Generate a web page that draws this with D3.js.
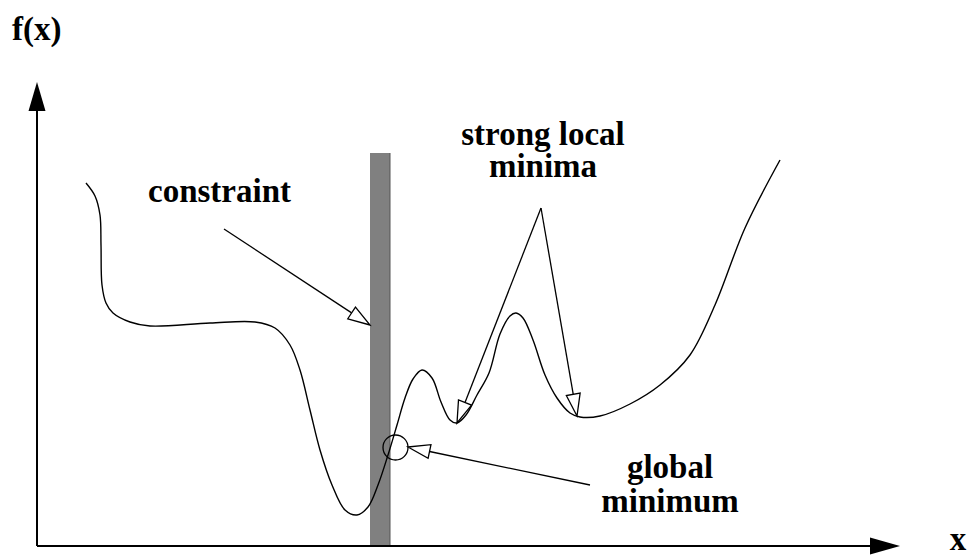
<!DOCTYPE html>
<html><head><meta charset="utf-8">
<script src="https://cdn.jsdelivr.net/npm/d3@7"></script>
<style>
html,body{margin:0;padding:0;background:#fff;}
svg text{font-family:"Liberation Serif","Times New Roman",serif;font-weight:bold;fill:#000;}
</style></head>
<body>
<svg id="c" width="969" height="558"></svg>
<script>
// Curve f(x): x and y in diagram units (origin at axes crossing)
const curveX = [49,58,63,64,65,69,76,93,113,173,218,238,253,263,273,283,295,308,320,331,341,351,360,368,376,385,395,404,413,420,429,440,452,463,473,479,486,496,508,520,533,543,563,593,623,653,678,708,743];
const curveY = [363,350,331,301,261,243,233,224,220,223,224,218,201,176,136,96,61,36,31,39,61,91,121,148,167,176,168,144,126,123,131,151,173,212,230,233,228,206,171,148,133,129,130,142,161,191,241,318,386];

// Constraint position (x range) and height
const constraintX = [333, 353];
const constraintTop = 393;

// Global minimum marker
const globalMin = {x: 358.5, y: 98.5, r: 12.5};

// Annotation arrows: [fromX, fromY, toX, toY]
const arrowFromX = [187, 504, 504, 553];
const arrowFromY = [317, 338, 338, 61];
const arrowToX   = [333, 420, 540, 371];
const arrowToY   = [221, 123, 130, 99];

// Labels
const labelText = ["f(x)", "x", "constraint", "strong local", "minima", "global", "minimum"];
const labelX = [-25, 921, 111, 506, 506, 633, 633];
const labelY = [506, -4, 344, 401, 369, 68, 34];
const labelAnchor = ["start","middle","start","middle","middle","middle","middle"];

const svg = d3.select("#c");
const xS = d3.scaleLinear().domain([0, 863]).range([37, 900]);
const yS = d3.scaleLinear().domain([0, 464]).range([546, 82]);

// constraint bar
svg.append("rect")
  .attr("x", xS(constraintX[0])).attr("y", yS(constraintTop))
  .attr("width", xS(constraintX[1]) - xS(constraintX[0]))
  .attr("height", yS(0) - yS(constraintTop) + 1)
  .attr("fill", "#808080");
svg.append("line")
  .attr("x1", xS(constraintX[1])).attr("x2", xS(constraintX[1]))
  .attr("y1", yS(constraintTop)).attr("y2", yS(0))
  .attr("stroke", "#555").attr("stroke-width", 1);

// axes
const axisG = svg.append("g");
axisG.append("line").attr("x1", xS(0)).attr("y1", yS(0)).attr("x2", xS(0)).attr("y2", yS(436))
  .attr("stroke", "#000").attr("stroke-width", 2);
axisG.append("line").attr("x1", xS(0)).attr("y1", yS(0)).attr("x2", xS(835)).attr("y2", yS(0))
  .attr("stroke", "#000").attr("stroke-width", 2);
// filled arrowheads
axisG.append("path")
  .attr("d", `M${xS(0)},${yS(464)} L${xS(0)-8.5},${yS(435)} L${xS(0)+8.5},${yS(435)} Z`)
  .attr("fill", "#000");
axisG.append("path")
  .attr("d", `M${xS(863)},${yS(0)} L${xS(833)},${yS(0)-8.5} L${xS(833)},${yS(0)+8.5} Z`)
  .attr("fill", "#000");

// curve
const pts = curveX.map((x, i) => [x, curveY[i]]);
const line = d3.line().x(d => xS(d[0])).y(d => yS(d[1])).curve(d3.curveCatmullRom.alpha(0.5));
svg.append("path").attr("d", line(pts)).attr("fill", "none")
  .attr("stroke", "#000").attr("stroke-width", 1.4);

// global minimum circle
svg.append("circle").attr("cx", xS(globalMin.x)).attr("cy", yS(globalMin.y)).attr("r", globalMin.r)
  .attr("fill", "none").attr("stroke", "#000").attr("stroke-width", 1.3);

// annotation arrows with hollow heads
const headLen = 22, headHalf = 7;
arrowFromX.forEach((fx, i) => {
  const x1 = xS(fx), y1 = yS(arrowFromY[i]), x2 = xS(arrowToX[i]), y2 = yS(arrowToY[i]);
  const dx = x2 - x1, dy = y2 - y1, L = Math.hypot(dx, dy);
  const ux = dx / L, uy = dy / L, px = -uy, py = ux;
  const bx = x2 - ux * headLen, by = y2 - uy * headLen;
  svg.append("line").attr("x1", x1).attr("y1", y1).attr("x2", bx).attr("y2", by)
    .attr("stroke", "#000").attr("stroke-width", 1.3);
  svg.append("path")
    .attr("d", `M${x2},${y2} L${bx + px*headHalf},${by + py*headHalf} L${bx - px*headHalf},${by - py*headHalf} Z`)
    .attr("fill", "#fff").attr("stroke", "#000").attr("stroke-width", 1.3).attr("stroke-linejoin", "miter");
});

// labels
labelText.forEach((t, i) => {
  svg.append("text").attr("x", xS(labelX[i])).attr("y", yS(labelY[i]))
    .attr("text-anchor", labelAnchor[i]).attr("font-size", 33).text(t);
});
</script>
</body></html>
